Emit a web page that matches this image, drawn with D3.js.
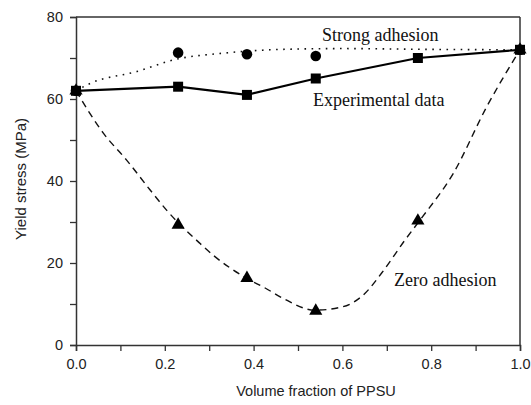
<!DOCTYPE html>
<html><head><meta charset="utf-8">
<script src="https://cdn.jsdelivr.net/npm/d3@7"></script>
<style>body{margin:0;background:#fff}svg{display:block}</style>
</head><body>
<svg id="c" width="531" height="405"></svg>
<script>
const fractions = [0, 0.23, 0.385, 0.54, 0.77, 1.0];
const experimental = [62, 63, 61, 65, 70, 72];
const strongMeas = [62, 71.3, 70.9, 70.5, null, 72];
const zeroMeas = [62, 29.3, 16.3, 8.3, 30.3, 72];
const strongCurveX = [0, 0.032, 0.137, 0.23, 0.324, 0.437, 0.505, 0.6, 0.8, 1.0];
const strongCurveY = [62, 63.8, 66.7, 69.8, 71.1, 72.0, 72.2, 72.3, 72.1, 72];
const zeroCurveX = [0, 0.062, 0.114, 0.167, 0.204, 0.279, 0.309, 0.384, 0.426, 0.466, 0.538, 0.6, 0.65, 0.688, 0.741, 0.775, 0.85, 0.925, 1.0];
const zeroCurveY = [62, 51.6, 45.1, 37.8, 32.9, 24.8, 21.9, 16.3, 13.9, 11.4, 8.5, 9.3, 12.5, 17.5, 25.6, 30.5, 41.9, 58.1, 72];
const xTicks = [0, 0.1, 0.2, 0.3, 0.4, 0.5, 0.6, 0.7, 0.8, 0.9, 1.0];
const xLabels = ["0.0", "", "0.2", "", "0.4", "", "0.6", "", "0.8", "", "1.0"];
const yTicks = [0, 10, 20, 30, 40, 50, 60, 70, 80];
const yLabels = ["0", "", "20", "", "40", "", "60", "", "80"];

const svg = d3.select("#c");
const L = 76, R = 520, T = 17, B = 345;
const x = d3.scaleLinear().domain([0, 1]).range([L, R]);
const y = d3.scaleLinear().domain([0, 80]).range([B, T]);
const axisColor = "#333";

// frame
svg.append("line").attr("x1", L).attr("x2", R).attr("y1", T).attr("y2", T).attr("stroke", axisColor).attr("stroke-width", 1.5);
svg.append("line").attr("x1", R).attr("x2", R).attr("y1", T).attr("y2", B).attr("stroke", axisColor).attr("stroke-width", 1.5);

const xAxis = svg.append("g").attr("transform", `translate(0,${B})`)
  .call(d3.axisBottom(x).tickValues(xTicks).tickSize(6).tickPadding(8).tickFormat((d, i) => xLabels[i]));
const yAxis = svg.append("g").attr("transform", `translate(${L},0)`)
  .call(d3.axisLeft(y).tickValues(yTicks).tickSize(6).tickPadding(7).tickFormat((d, i) => yLabels[i]));
[xAxis, yAxis].forEach(g => {
  g.select(".domain").attr("stroke", axisColor).attr("stroke-width", 1.5);
  g.selectAll(".tick line").attr("stroke", axisColor).attr("stroke-width", 1.3);
  g.selectAll(".tick text").attr("font-family", "Liberation Sans, Arial, sans-serif").attr("font-size", 14.5).attr("fill", "#222");
});

svg.append("text").attr("x", 316).attr("y", 396).attr("text-anchor", "middle")
  .attr("font-family", "Liberation Sans, Arial, sans-serif").attr("font-size", 14.5).attr("fill", "#222")
  .text("Volume fraction of PPSU");
svg.append("text").attr("transform", "translate(26,179) rotate(-90)").attr("text-anchor", "middle")
  .attr("font-family", "Liberation Sans, Arial, sans-serif").attr("font-size", 15).attr("fill", "#222")
  .text("Yield stress (MPa)");

// model curves
const line = d3.line().x(d => x(d[0])).y(d => y(d[1])).curve(d3.curveMonotoneX);
svg.append("path").datum(strongCurveX.map((v, i) => [v, strongCurveY[i]]))
  .attr("d", line).attr("fill", "none").attr("stroke", "#111").attr("stroke-width", 1.6)
  .attr("stroke-dasharray", "1.6,5.5").attr("stroke-linecap", "butt");
svg.append("path").datum(zeroCurveX.map((v, i) => [v, zeroCurveY[i]]))
  .attr("d", line).attr("fill", "none").attr("stroke", "#111").attr("stroke-width", 1.4)
  .attr("stroke-dasharray", "7,5");

// experimental line
const lin = d3.line().x(d => x(d[0])).y(d => y(d[1]));
svg.append("path").datum(fractions.map((v, i) => [v, experimental[i]]))
  .attr("d", lin).attr("fill", "none").attr("stroke", "#000").attr("stroke-width", 2.2);

// markers
svg.append("g").selectAll("circle").data(fractions.map((v, i) => [v, strongMeas[i]]).filter(d => d[1] !== null))
  .join("circle").attr("cx", d => x(d[0])).attr("cy", d => y(d[1])).attr("r", 5.3).attr("fill", "#000");
const tri = d3.symbol().type(d3.symbolTriangle).size(75);
svg.append("g").selectAll("path").data(fractions.map((v, i) => [v, zeroMeas[i]]))
  .join("path").attr("d", tri).attr("transform", d => `translate(${x(d[0])},${y(d[1])})`).attr("fill", "#000");
svg.append("g").selectAll("rect").data(fractions.map((v, i) => [v, experimental[i]]))
  .join("rect").attr("x", d => x(d[0]) - 5).attr("y", d => y(d[1]) - 5).attr("width", 10).attr("height", 10).attr("fill", "#000");

// annotations
const ann = [["Strong adhesion", 322, 41], ["Experimental data", 313, 106], ["Zero adhesion", 394, 286]];
svg.append("g").selectAll("text").data(ann).join("text")
  .attr("x", d => d[1]).attr("y", d => d[2])
  .attr("font-family", "Liberation Serif, Times New Roman, serif").attr("font-size", 18).attr("fill", "#111")
  .text(d => d[0]);
</script>
</body></html>
